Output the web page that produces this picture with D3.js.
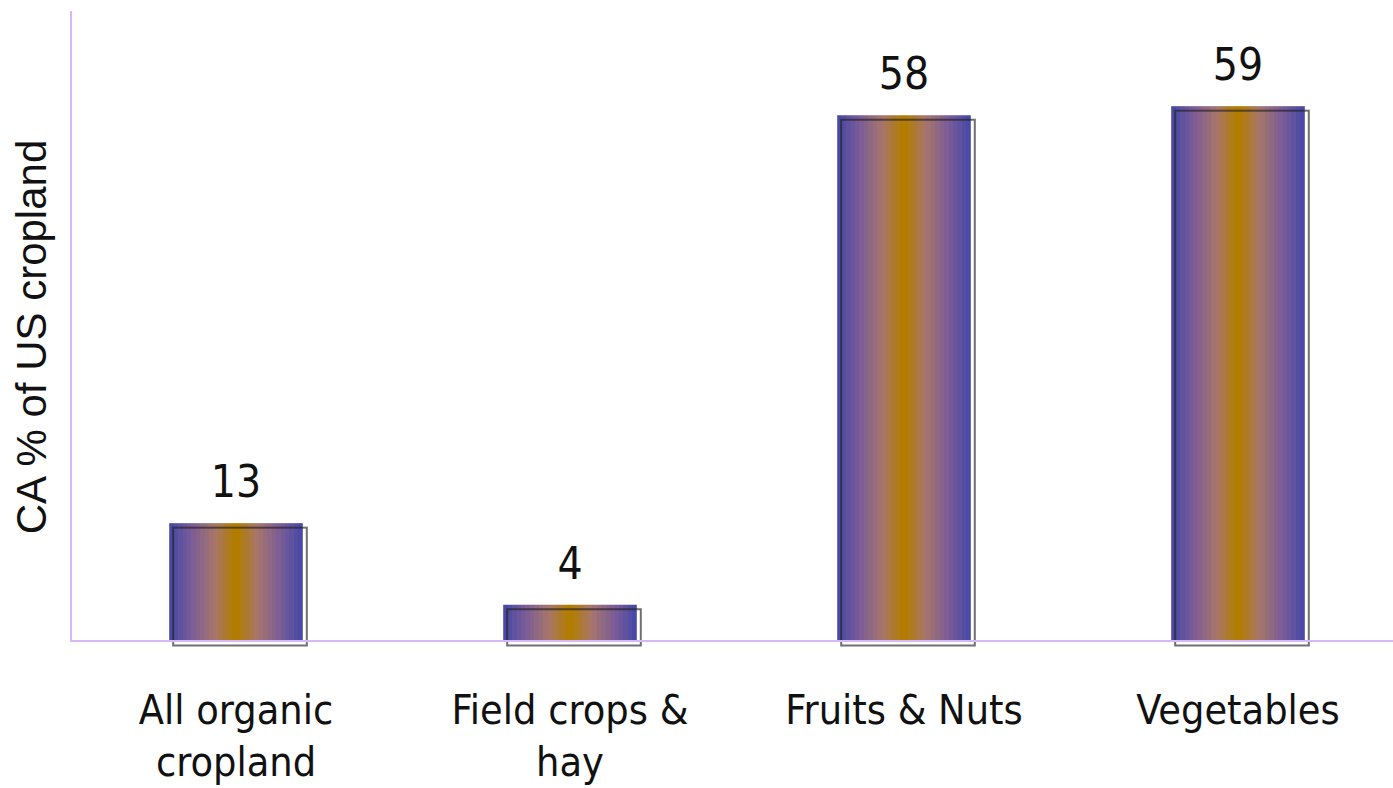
<!DOCTYPE html>
<meta charset="utf-8">
<style>
body { margin: 0; background: #fff; }
svg { display: block; }
text { font-family: "DejaVu Sans Condensed", "DejaVu Sans", sans-serif; fill: #111; }
.axis-line { stroke: #d6b8f6; stroke-width: 2; }
.outline { fill: none; stroke: #222; stroke-opacity: 0.65; stroke-width: 2; }
</style>
<svg width="1393" height="788"></svg>
<script src="https://cdn.jsdelivr.net/npm/d3@7/dist/d3.min.js"></script>
<script>

var categories = [["All organic", "cropland"], ["Field crops &", "hay"], ["Fruits & Nuts"], ["Vegetables"]];
var values = [13, 4, 58, 59];
var yTitle = "CA % of US cropland";

var svg = d3.select("svg"),
    plotLeft = 71, plotRight = 1393, plotTop = 11, plotBase = 641;

var x = d3.scaleBand()
    .domain(d3.range(values.length))
    .range([69, 1405])
    .paddingInner(0.6)
    .paddingOuter(0.3);

var y = d3.scaleLinear().domain([0, 69.5]).range([plotBase, plotTop]);

// banded blue-orange-blue gradient
var defs = svg.append("defs");
var grad = defs.append("linearGradient").attr("id", "barGrad")
    .attr("x1", "0%").attr("x2", "100%").attr("y1", "0%").attr("y2", "0%");
var ramp = d3.scaleLinear()
    .domain([0, 0.35, 0.7, 1])
    .range(["#4a4aa6", "#7d5e96", "#a8766a", "#b27c00"]);
var steps = 15;
for (var i = 0; i < steps; i++) {
  var c = ramp(i / (steps - 1));
  grad.append("stop").attr("offset", 0.5 * i / steps).attr("stop-color", c);
  grad.append("stop").attr("offset", 0.5 * (i + 1) / steps).attr("stop-color", c);
}
for (var i = steps - 1; i >= 0; i--) {
  var c = ramp(i / (steps - 1));
  grad.append("stop").attr("offset", 1 - 0.5 * (i + 1) / steps).attr("stop-color", c);
  grad.append("stop").attr("offset", 1 - 0.5 * i / steps).attr("stop-color", c);
}

var bars = svg.selectAll(".bar")
  .data(values)
  .enter().append("g")
    .attr("class", "bar");

bars.append("rect")
    .attr("x", function(d, i) { return x(i); })
    .attr("y", function(d) { return y(d); })
    .attr("width", x.bandwidth())
    .attr("height", function(d) { return plotBase - y(d); })
    .attr("fill", "url(#barGrad)");

// axis lines
svg.append("line").attr("class", "axis-line")
    .attr("x1", plotLeft).attr("x2", plotLeft).attr("y1", plotTop).attr("y2", plotBase + 1);
svg.append("line").attr("class", "axis-line")
    .attr("x1", plotLeft).attr("x2", plotRight).attr("y1", plotBase).attr("y2", plotBase);

bars.append("rect")
    .attr("class", "outline")
    .attr("x", function(d, i) { return x(i) + 4; })
    .attr("y", function(d) { return y(d) + 4.5; })
    .attr("width", x.bandwidth())
    .attr("height", function(d) { return plotBase - y(d); });

bars.append("text")
    .attr("x", function(d, i) { return x(i) + x.bandwidth() / 2; })
    .attr("y", function(d) { return y(d) - 26; })
    .attr("text-anchor", "middle")
    .style("font-size", "44px")
    .text(function(d) { return d; });

svg.selectAll(".cat")
  .data(categories)
  .enter().append("text")
    .attr("class", "cat")
    .attr("text-anchor", "middle")
    .style("font-size", "41px")
    .attr("transform", function(d, i) { return "translate(" + (x(i) + x.bandwidth() / 2) + ",724)"; })
  .selectAll("tspan")
  .data(function(d) { return d; })
  .enter().append("tspan")
    .attr("x", 0)
    .attr("y", function(d, j) { return j * 52; })
    .text(function(d) { return d; });

svg.append("text")
    .attr("transform", "translate(46,337) rotate(-90)")
    .attr("text-anchor", "middle")
    .style("font-family", "'Liberation Sans', Arial, sans-serif")
    .style("font-size", "42px")
    .text(yTitle);

</script>
